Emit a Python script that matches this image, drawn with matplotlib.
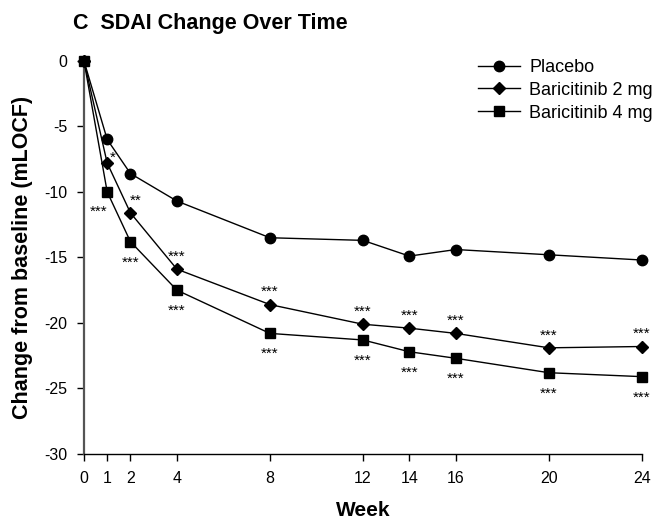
import numpy as np
import matplotlib.pyplot as plt

plt.rcParams['font.family'] = ['Liberation Sans', 'DejaVu Sans']
plt.rcParams['axes.unicode_minus'] = False

weeks = [0, 1, 2, 4, 8, 12, 14, 16, 20, 24]
placebo = [0, -6.0, -8.6, -10.7, -13.5, -13.7, -14.9, -14.4, -14.8, -15.2]
bari2 = [0, -7.8, -11.6, -15.9, -18.6, -20.1, -20.4, -20.8, -21.9, -21.8]
bari4 = [0, -10.0, -13.8, -17.5, -20.8, -21.3, -22.2, -22.7, -23.8, -24.1]

# significance vs placebo: 2 mg marked above, 4 mg marked below
sig2 = ['', '*', '**', '***', '***', '***', '***', '***', '***', '***']
sig4 = ['', '***', '***', '***', '***', '***', '***', '***', '***', '***']

fig = plt.figure(figsize=(6.61, 5.2), dpi=100)
ax = fig.add_axes([0.127, 0.127, 0.844, 0.756])

ax.plot(weeks, placebo, color='black', lw=1, marker='o', ms=7.5, clip_on=False, label='Placebo', zorder=3)
ax.plot(weeks, bari2, color='black', lw=1, marker='D', ms=6.5, clip_on=False, label='Baricitinib 2 mg', zorder=3)
ax.plot(weeks, bari4, color='black', lw=1, marker='s', ms=7, clip_on=False, label='Baricitinib 4 mg', zorder=3)

for i, w in enumerate(weeks):
    if sig2[i]:
        if i == 1:
            off = (4, 4)
        elif i == 2:
            off = (4, 9)
        else:
            off = (0, 9)
        ax.annotate(sig2[i], (w, bari2[i]), xytext=off, textcoords='offset points',
                    ha='center', va='center', fontsize=11)
    if sig4[i]:
        if i == 1:
            off = (-6, -14)
        else:
            off = (0, -15)
        ax.annotate(sig4[i], (w, bari4[i]), xytext=off, textcoords='offset points',
                    ha='center', va='center', fontsize=11)

ax.set_xlim(0, 24)
ax.set_ylim(-30, 0)
ax.set_xticks(weeks)
ax.set_yticks(np.arange(-30, 1, 5))
ax.tick_params(direction='out', length=5, width=1, labelsize=11.5, pad=7)
ax.spines['top'].set_visible(False)
ax.spines['right'].set_visible(False)
ax.spines['left'].set_color('#555555')
ax.spines['left'].set_linewidth(1.6)
ax.spines['bottom'].set_linewidth(1)

ax.set_xlabel('Week', fontsize=15, fontweight='bold', labelpad=11)
ax.set_ylabel('Change from baseline (mLOCF)', fontsize=15.5, fontweight='bold', labelpad=8)
fig.text(0.111, 0.955, 'C  SDAI Change Over Time', fontsize=15.5, fontweight='bold', va='center')

ax.legend(loc='upper left', bbox_to_anchor=(478 / 661, 1 - 59 / 520), bbox_transform=fig.transFigure,
          frameon=False, fontsize=13, handlelength=2.3, labelspacing=0.32, handletextpad=0.55,
          borderpad=0, borderaxespad=0)

fig.savefig('out.png', dpi=100)
